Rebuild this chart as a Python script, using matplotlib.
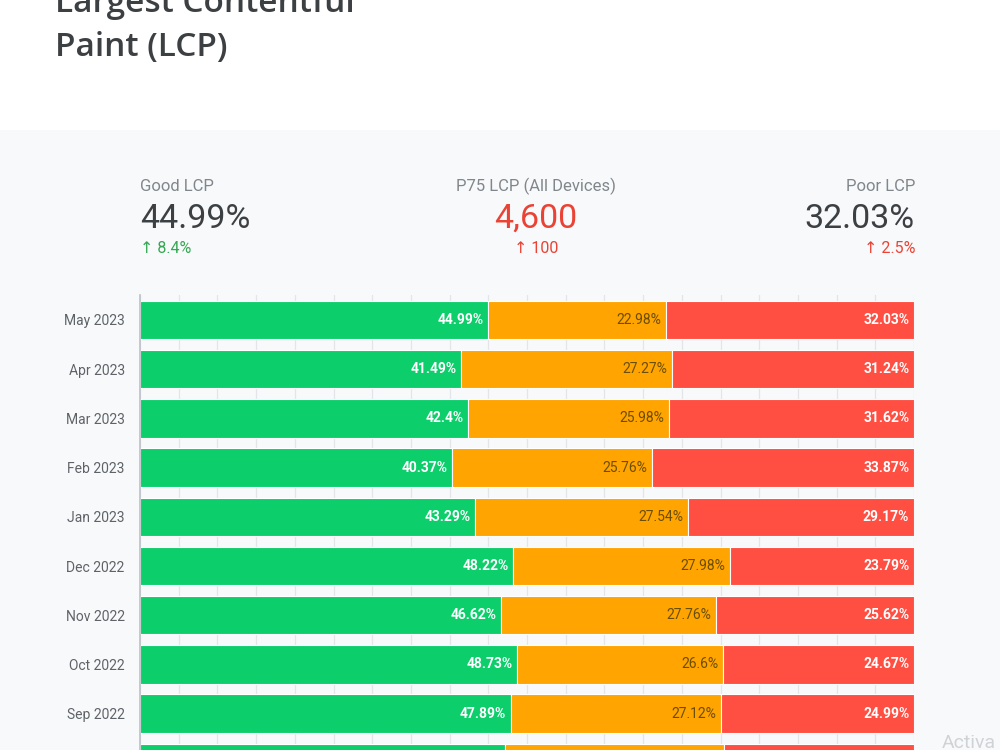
import matplotlib.pyplot as plt
from matplotlib.patches import Rectangle
import numpy as np

plt.rcParams['font.family'] = ['Roboto', 'DejaVu Sans']

months = ["May 2023", "Apr 2023", "Mar 2023", "Feb 2023", "Jan 2023",
          "Dec 2022", "Nov 2022", "Oct 2022", "Sep 2022", "Aug 2022"]
good = [44.99, 41.49, 42.4, 40.37, 43.29, 48.22, 46.62, 48.73, 47.89, 47.2]
needs_improvement = [22.98, 27.27, 25.98, 25.76, 27.54, 27.98, 27.76, 26.6, 27.12, 28.3]
poor = [32.03, 31.24, 31.62, 33.87, 29.17, 23.79, 25.62, 24.67, 24.99, 24.5]

kpi_titles = ["Good LCP", "P75 LCP (All Devices)", "Poor LCP"]
kpi_values = ["44.99%", "4,600", "32.03%"]
kpi_deltas = ["8.4%", "100", "2.5%"]

GREEN, ORANGE, RED = "#0cce6b", "#ffa400", "#ff4e42"
BG = "#f8f9fa"
W, H = 1000, 750


def fx(px):
    return px / W


def fy(py):
    return 1 - py / H


fig = plt.figure(figsize=(10, 7.5), dpi=100, facecolor="white")
fig.patches.append(Rectangle((0, 0), 1, fy(130), transform=fig.transFigure,
                             facecolor=BG, edgecolor="none", zorder=-5))

# title (cut off at top in the reference)
fig.text(fx(55), fy(12), "Largest Contentful", fontsize=24, fontweight="semibold",
         color="#3c4043", family=["Open Sans", "DejaVu Sans"], va="baseline")
fig.text(fx(55), fy(56), "Paint (LCP)", fontsize=24, fontweight="semibold",
         color="#3c4043", family=["Open Sans", "DejaVu Sans"], va="baseline")

# KPI header
kpi_x = [140, 536, 915]
kpi_ha = ["left", "center", "right"]
value_colors = ["#3c4043", "#ea4335", "#3c4043"]
delta_colors = ["#34a853", "#ea4335", "#ea4335"]
for i in range(3):
    fig.text(fx(kpi_x[i]), fy(191), kpi_titles[i], fontsize=12, color="#80868b",
             ha=kpi_ha[i], va="baseline")
    fig.text(fx(kpi_x[i]), fy(228), kpi_values[i], fontsize=24.5, color=value_colors[i],
             ha=kpi_ha[i], va="baseline")
    fig.text(fx(kpi_x[i]), fy(253), "\u2191 " + kpi_deltas[i], fontsize=11.5,
             color=delta_colors[i], ha=kpi_ha[i], va="baseline")

# bar chart, extends below the figure edge like the cropped reference
row = 49.2
top_px, bot_px = 295, 790
ax = fig.add_axes([fx(140), fy(bot_px), fx(914) - fx(140), (bot_px - top_px) / H])
ax.set_facecolor(BG)

y = np.arange(len(months))
h = 0.78
g = np.array(good)
n = np.array(needs_improvement)
p = np.array(poor)
ax.barh(y, g, height=h, color=GREEN, edgecolor="white", linewidth=0.8, zorder=2)
ax.barh(y, n, left=g, height=h, color=ORANGE, edgecolor="white", linewidth=0.8, zorder=2)
ax.barh(y, p, left=g + n, height=h, color=RED, edgecolor="white", linewidth=0.8, zorder=2)

# last row is cut off by the picture edge, its labels are not visible
for i in range(len(months) - 1):
    ax.text(g[i] - 0.6, y[i], f"{good[i]:g}%", ha="right", va="center",
            color="white", fontsize=10, fontweight="bold", zorder=3)
    ax.text(g[i] + n[i] - 0.6, y[i], f"{needs_improvement[i]:g}%", ha="right",
            va="center", color="#6b4e00", fontsize=10, zorder=3)
    ax.text(g[i] + n[i] + p[i] - 0.6, y[i], f"{poor[i]:g}%", ha="right",
            va="center", color="white", fontsize=10, fontweight="bold", zorder=3)

ax.set_xlim(0, 100)
ax.set_ylim((bot_px - 320) / row, -(320 - top_px) / row)
ax.set_xticks(np.arange(0, 101, 5))
ax.tick_params(axis="x", length=0, labelbottom=False)
ax.grid(axis="x", color="#e3e5e8", linewidth=0.9, zorder=1)
ax.set_yticks(y[:-1])
ax.set_yticklabels(months[:-1], fontsize=10, color="#5f6368")
ax.tick_params(axis="y", length=0, pad=11)
for s in ["top", "right", "bottom"]:
    ax.spines[s].set_visible(False)
ax.spines["left"].set_color("#bdc1c6")
ax.spines["left"].set_linewidth(1.2)

fig.text(fx(942), fy(748), "Activa", fontsize=14, color="#d0d3d6", va="baseline")

plt.savefig("out.png", dpi=100, facecolor=fig.get_facecolor())
